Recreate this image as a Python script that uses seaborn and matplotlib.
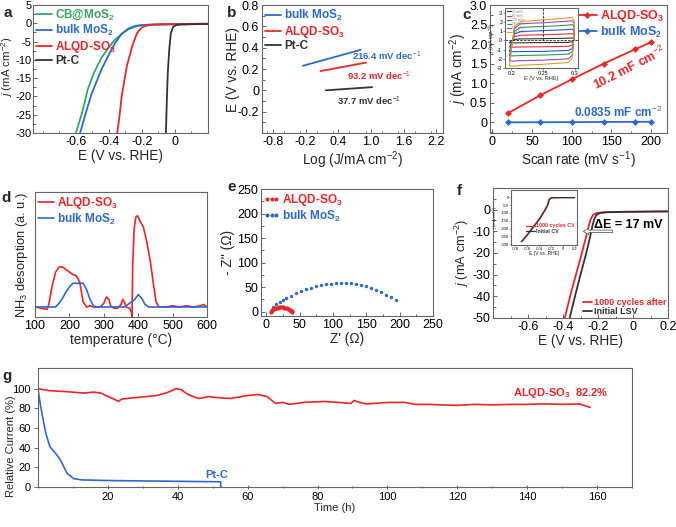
import numpy as np
import pandas as pd
import matplotlib
matplotlib.use('Agg')
import matplotlib.pyplot as plt
import matplotlib.ticker as mticker
from matplotlib.lines import Line2D
import seaborn as sns

# --- colours ---
RED = '#f02424'
BLUE = '#2b6ad6'
GREEN = '#35a860'
BLACK = '#333333'

# --- panel a: polarisation curves ---
a_E_cb = [-0.60, -0.56, -0.528, -0.49, -0.446, -0.40, -0.364, -0.32, -0.28, -0.24, -0.20, -0.12, 0.0, 0.2]
a_j_cb = [-30, -24, -18, -13.5, -9.5, -6.5, -4.5, -2.8, -1.6, -0.9, -0.5, -0.3, -0.2, -0.15]
a_E_bulk = [-0.575, -0.54, -0.507, -0.446, -0.40, -0.364, -0.323, -0.28, -0.24, -0.20, -0.16, 0.0, 0.2]
a_j_bulk = [-30, -24.5, -19.5, -12.7, -8.5, -5.5, -2.9, -1.4, -0.7, -0.5, -0.4, -0.3, -0.2]
a_E_alqd = [-0.35, -0.335, -0.323, -0.292, -0.26, -0.23, -0.20, -0.16, -0.10, 0.0, 0.2]
a_j_alqd = [-30, -25, -20, -11.8, -6.4, -2.7, -1.1, -0.45, -0.3, -0.2, -0.1]
a_E_ptc = [-0.055, -0.05, -0.044, -0.035, -0.025, -0.01, 0.01, 0.03, 0.1, 0.2]
a_j_ptc = [-30, -22, -14, -7.3, -2.7, -0.9, -0.5, -0.35, -0.25, -0.2]

# --- panel b: Tafel lines ---
b_x_bulk = [-0.25, 0.81]
b_y_bulk = [0.23, 0.38]
b_x_alqd = [0.07, 0.91]
b_y_alqd = [0.18, 0.26]
b_x_ptc = [0.17, 1.02]
b_y_ptc = [0.0, 0.03]
b_slopes = ['216.4', '93.2', '37.7']

# --- panel c: double layer capacitance ---
c_rate = [20, 60, 100, 140, 180, 200]
c_j_alqd = [0.24, 0.69, 1.10, 1.50, 1.87, 2.05]
c_j_bulk = [0.002, 0.005, 0.008, 0.012, 0.015, 0.017]
cv_E = [0.197, 0.2, 0.205, 0.215, 0.25, 0.285, 0.296, 0.299, 0.299, 0.296, 0.29, 0.25, 0.215, 0.205, 0.2, 0.197]
cv_j = {
    '20 mV/s': [-0.25, -0.1, 0.1, 0.15, 0.18, 0.22, 0.25, 0.2, 0.1, -0.15, -0.22, -0.25, -0.27, -0.28, -0.28, -0.25],
    '60 mV/s': [-0.7, -0.3, 0.4, 0.55, 0.6, 0.68, 0.72, 0.6, 0.3, -0.5, -0.65, -0.7, -0.72, -0.74, -0.74, -0.7],
    '100 mV/s': [-1.2, -0.5, 0.7, 0.95, 1.05, 1.15, 1.2, 1.0, 0.5, -0.9, -1.1, -1.2, -1.22, -1.24, -1.24, -1.2],
    '140 mV/s': [-1.6, -0.7, 1.0, 1.4, 1.5, 1.62, 1.7, 1.4, 0.7, -1.2, -1.5, -1.6, -1.65, -1.68, -1.68, -1.6],
    '180 mV/s': [-2.2, -0.9, 1.3, 1.8, 1.9, 2.05, 2.12, 1.8, 0.9, -1.6, -2.0, -2.15, -2.2, -2.25, -2.25, -2.2],
    '200 mV/s': [-2.75, -1.1, 1.5, 2.05, 2.2, 2.4, 2.5, 2.1, 1.0, -1.9, -2.4, -2.6, -2.7, -2.8, -2.8, -2.75],
}
cv_colors = [BLACK, '#e83030', '#3050e0', '#20a050', '#b040d0', '#d8a020']

# --- panel d: NH3-TPD ---
d_T_alqd = [100, 120, 135, 140, 150, 160, 170, 180, 190, 200, 210, 220, 230, 235, 240, 250, 260, 270,
            280, 290, 300, 308, 315, 320, 330, 340, 350, 355, 360, 365, 375, 380, 382, 384, 388, 393,
            398, 405, 415, 425, 435, 445, 452, 460, 480, 500, 520, 540, 560, 580, 590, 600]
d_s_alqd = [0.08, 0.07, 0.06, 0.10, 0.25, 0.36, 0.40, 0.40, 0.38, 0.36, 0.34, 0.33, 0.28, 0.20, 0.12,
            0.08, 0.09, 0.08, 0.08, 0.08, 0.11, 0.16, 0.14, 0.09, 0.07, 0.07, 0.10, 0.14, 0.12, 0.08,
            0.07, 0.04, 0.0, 0.4, 0.7, 0.8, 0.81, 0.77, 0.72, 0.60, 0.45, 0.25, 0.12, 0.08, 0.08, 0.09,
            0.08, 0.09, 0.08, 0.09, 0.10, 0.08]
d_T_bulk = [100, 150, 160, 170, 180, 190, 200, 210, 220, 240, 250, 260, 270, 280, 300, 340, 360, 370,
            380, 390, 400, 410, 420, 430, 600]
d_s_bulk = [0.08, 0.08, 0.08, 0.11, 0.15, 0.20, 0.24, 0.27, 0.27, 0.27, 0.22, 0.14, 0.09, 0.08, 0.08,
            0.08, 0.08, 0.10, 0.12, 0.14, 0.18, 0.15, 0.10, 0.08, 0.08]

# --- panel e: Nyquist ---
e_re_alqd = [7, 9, 11, 13, 15, 17, 19, 21, 23, 25, 27, 29, 31, 33, 35, 36, 37, 38, 38.5]
e_im_alqd = [0, 3, 5, 6.5, 7.5, 8.3, 8.8, 9.0, 9.0, 8.8, 8.3, 7.6, 6.6, 5.4, 4, 3, 2, 1, 0]
e_re_bulk = [6.5, 10, 15, 20, 25, 30, 37.5, 45, 52.5, 60, 67.5, 75, 82.5, 90, 97.5, 105, 112.5, 120,
             127.5, 135, 142.5, 150, 157.5, 165, 172.5, 180, 187.5, 195]
e_im_bulk = [2, 9, 15, 20, 24.5, 28.6, 32.7, 37.5, 41.5, 45.6, 49, 51.8, 53.8, 55.9, 57.2, 57.9, 58.6,
             58.6, 57.9, 56.5, 54.5, 51.8, 48.4, 44.3, 39.5, 34, 29.3, 24]

# --- panel f: stability LSV ---
f_E_after = [-0.39, -0.358, -0.326, -0.292, -0.268, -0.253, -0.242, -0.229, -0.21, -0.17, -0.06, 0.2]
f_j_after = [-50, -39.5, -30, -20, -12.5, -7.5, -4.5, -2.5, -1.6, -1.2, -1.0, -0.8]
f_E_init = [-0.362, -0.33, -0.30, -0.267, -0.245, -0.232, -0.222, -0.21, -0.19, -0.15, -0.05, 0.2]
f_j_init = [-50, -39.5, -30, -20, -12.5, -7.5, -4.5, -2.5, -1.6, -1.2, -1.0, -0.8]
fi_E_after = [-0.70, -0.6, -0.5, -0.4, -0.31, -0.26, -0.235, -0.2, 0.0, 0.2]
fi_E_init = [-0.69, -0.59, -0.49, -0.39, -0.30, -0.25, -0.225, -0.19, 0.0, 0.2]
fi_j = [-285, -240, -190, -140, -85, -50, -15, -2, -1, -1]

# --- panel g: chronoamperometry ---
g_t_alqd = [0, 3, 8, 13, 16, 18, 20, 22, 23, 24, 27, 31, 34, 37, 39.5, 41, 42.5, 44, 46, 49, 51, 55,
            60, 63, 65.5, 68, 70, 72, 76, 82, 86, 89.5, 90.5, 92, 94, 100, 105, 108, 112, 115, 120,
            125, 130, 135, 140, 145, 150, 155, 158]
g_v_alqd = [100, 98, 97, 95.5, 96.5, 95.5, 92, 89, 87, 89.5, 90.5, 92, 93, 96, 100, 99, 95, 92.5, 90,
            92, 91, 90, 93, 94, 92, 85, 86, 84, 86, 87, 86, 85, 88, 86, 84.5, 86, 86, 84, 84, 83.5,
            83, 84, 83.5, 84, 84, 84.5, 84, 84.5, 81]
g_t_ptc = [0, 0.7, 1.5, 2.2, 3.4, 5.3, 6.5, 8.3, 10.2, 12.6, 20, 26.7, 40, 52.3, 52.3]
g_v_ptc = [100, 83, 68, 55, 41, 33, 27, 14, 8.5, 7.2, 6.6, 6.3, 5.8, 5.3, 0]

# --- style ---
sns.set_style('ticks')
plt.rcParams['font.family'] = ['Liberation Sans', 'DejaVu Sans']
plt.rcParams['mathtext.fontset'] = 'custom'
plt.rcParams['mathtext.rm'] = 'Liberation Sans'
plt.rcParams['mathtext.it'] = 'Liberation Sans:italic'
plt.rcParams['mathtext.bf'] = 'Liberation Sans:bold'
plt.rcParams['axes.unicode_minus'] = False
plt.rcParams['axes.edgecolor'] = '#666666'
plt.rcParams['axes.linewidth'] = 0.8

W, H = 676, 527
TICK_FS = 9
LABEL_FS = 9.8
fig = plt.figure(figsize=(W / 100, H / 100), dpi=100)


def add_box(left, top, right, bottom):
    return fig.add_axes([left / W, 1 - bottom / H, (right - left) / W, (bottom - top) / H])


def style(ax, fs=TICK_FS, direction='in'):
    ax.tick_params(which='both', direction=direction, colors='#666666', labelcolor='black',
                   labelsize=fs, width=0.7, pad=2)
    ax.tick_params(which='major', length=3)
    ax.tick_params(which='minor', length=1.8)


def ylabel_at(ax, text, px_right, fs=LABEL_FS, yfrac=0.5):
    # y label with its right edge at a given pixel column
    ax.set_ylabel(text, fontsize=fs)
    pos = ax.get_position()
    ax.yaxis.set_label_coords((px_right - pos.x0 * W) / (pos.width * W), yfrac)


def zero_fmt(digits):
    def f(v, pos):
        if abs(v) < 1e-9:
            return '0'
        return f'{v:.{digits}f}'
    return mticker.FuncFormatter(f)


def color_legend(leg):
    for txt, h in zip(leg.get_texts(), leg.legend_handles):
        txt.set_color(h.get_color())


def bold_legend(ax, fs=8.5, handles=None, **kw):
    opts = dict(loc='upper left', frameon=False, prop={'weight': 'bold', 'size': fs},
                labelspacing=0.05, handlelength=1.4, handletextpad=0.2,
                borderaxespad=0.15, borderpad=0.1)
    opts.update(kw)
    if handles is not None:
        leg = ax.legend(handles=handles, **opts)
    else:
        leg = ax.legend(**opts)
    color_legend(leg)
    return leg


def line(ax, x, y, color, label=None, lw=1.3, **kw):
    sns.lineplot(x=x, y=y, ax=ax, color=color, lw=lw, label=label, sort=False, estimator=None, **kw)


# ================= a =================
ax = add_box(33, 5, 208, 133)
line(ax, a_E_cb, a_j_cb, GREEN, 'CB@MoS$_\\mathbf{2}$')
line(ax, a_E_bulk, a_j_bulk, BLUE, 'bulk MoS$_\\mathbf{2}$')
line(ax, a_E_alqd, a_j_alqd, RED, 'ALQD-SO$_\\mathbf{3}$')
line(ax, a_E_ptc, a_j_ptc, BLACK, 'Pt-C')
ax.set_xlim(-0.86, 0.2)
ax.set_ylim(-30, 5)
ax.xaxis.set_major_locator(mticker.FixedLocator([-0.6, -0.4, -0.2, 0]))
ax.xaxis.set_minor_locator(mticker.MultipleLocator(0.1))
ax.yaxis.set_major_locator(mticker.MultipleLocator(5))
ax.yaxis.set_minor_locator(mticker.MultipleLocator(2.5))
ax.xaxis.set_major_formatter(zero_fmt(1))
ax.set_xlabel('E (V vs. RHE)', fontsize=LABEL_FS, labelpad=1)
ylabel_at(ax, '$j$ (mA cm$^{-2}$)', 15, fs=8.2, yfrac=0.52)
style(ax)
ax.tick_params(axis='y', labelsize=8, pad=1.2)
bold_legend(ax)

# ================= b =================
ax = add_box(262, 5, 443, 133)
line(ax, b_x_bulk, b_y_bulk, BLUE, 'bulk MoS$_\\mathbf{2}$')
line(ax, b_x_alqd, b_y_alqd, RED, 'ALQD-SO$_\\mathbf{3}$')
line(ax, b_x_ptc, b_y_ptc, BLACK, 'Pt-C')
ax.text(1.28, 0.32, b_slopes[0] + ' mV dec$^{-1}$', color=BLUE, fontsize=6.8, weight='bold', ha='center', va='center')
ax.text(1.14, 0.13, b_slopes[1] + ' mV dec$^{-1}$', color=RED, fontsize=6.8, weight='bold', ha='center', va='center')
ax.text(0.96, -0.10, b_slopes[2] + ' mV dec$^{-1}$', color=BLACK, fontsize=6.8, weight='bold', ha='center', va='center')
ax.set_xlim(-1.0, 2.32)
ax.set_ylim(-0.4, 0.8)
ax.xaxis.set_major_locator(mticker.FixedLocator([-0.8, -0.2, 0.4, 1.0, 1.6, 2.2]))
ax.xaxis.set_minor_locator(mticker.MultipleLocator(0.3))
ax.yaxis.set_major_locator(mticker.FixedLocator([-0.2, 0, 0.2, 0.4, 0.6, 0.8]))
ax.yaxis.set_minor_locator(mticker.MultipleLocator(0.1))
ax.xaxis.set_major_formatter(zero_fmt(1))
ax.yaxis.set_major_formatter(zero_fmt(1))
ax.set_xlabel('Log (J/mA cm$^{-2}$)', fontsize=LABEL_FS, labelpad=1)
ylabel_at(ax, 'E (V vs. RHE)', 240)
style(ax)
bold_legend(ax)

# ================= c =================
ax = add_box(490, 5, 667, 133)
line(ax, c_rate, c_j_alqd, RED, 'ALQD-SO$_\\mathbf{3}$', marker='D', markersize=3.5, markeredgewidth=0)
line(ax, c_rate, c_j_bulk, BLUE, 'bulk MoS$_\\mathbf{2}$', marker='D', markersize=3.5, markeredgewidth=0)
ax.text(173, 1.40, '10.2 mF cm$^{-2}$', color=RED, fontsize=9, weight='bold', rotation=27,
        ha='center', va='center')
ax.text(158, 0.25, '0.0835 mF cm$^{-2}$', color=BLUE, fontsize=8.5, weight='bold', ha='center', va='center')
ax.set_xlim(-3, 220)
ax.set_ylim(-0.27, 3.0)
ax.xaxis.set_major_locator(mticker.MultipleLocator(50))
ax.xaxis.set_minor_locator(mticker.MultipleLocator(25))
ax.yaxis.set_major_locator(mticker.MultipleLocator(0.5))
ax.yaxis.set_minor_locator(mticker.MultipleLocator(0.25))
ax.yaxis.set_major_formatter(zero_fmt(1))
ax.set_xlabel('Scan rate (mV s$^{-1}$)', fontsize=LABEL_FS, labelpad=1)
ylabel_at(ax, '$j$ (mA cm$^{-2}$)', 469)
style(ax)
bold_legend(ax, fs=9, loc='upper right', handlelength=1.6)

ins = add_box(505, 8, 578, 68)
for (name, vals), col in zip(cv_j.items(), cv_colors):
    line(ins, cv_E, vals, col, name, lw=0.8)
ins.axhline(0, color='black', lw=0.5, ls='--')
ins.plot([0.25, 0.25], [0, 3.5], color='black', lw=0.5, ls='--')
ins.set_xlim(0.19, 0.305)
ins.set_ylim(-3, 3.5)
ins.xaxis.set_major_locator(mticker.FixedLocator([0.2, 0.25, 0.3]))
ins.yaxis.set_major_locator(mticker.MultipleLocator(1))
ins.xaxis.set_major_formatter(mticker.FuncFormatter(lambda v, p: f'{v:g}'))
ins.set_xlabel('E (V vs. RHE)', fontsize=4, labelpad=0)
ins.set_ylabel('$j$ (mA cm$^{-2}$)', fontsize=4, labelpad=0)
ins.tick_params(labelsize=4, length=1.5, width=0.5, pad=0.5, colors='#666666', labelcolor='black')
leg = ins.legend(loc='upper left', frameon=False, fontsize=2.2, labelspacing=0.05, handlelength=1.5,
                 handletextpad=0.3, borderaxespad=0.1)
for t in leg.get_texts():
    t.set_color('#777777')

# ================= d =================
ax = add_box(35, 192, 207, 317)
line(ax, d_T_alqd, d_s_alqd, RED, 'ALQD-SO$_\\mathbf{3}$', lw=1.2)
line(ax, d_T_bulk, d_s_bulk, BLUE, 'bulk MoS$_\\mathbf{2}$', lw=1.2)
ax.set_xlim(100, 600)
ax.set_ylim(0, 1.0)
ax.xaxis.set_major_locator(mticker.MultipleLocator(100))
ax.set_yticks([])
ax.set_xlabel('temperature (°C)', fontsize=LABEL_FS, labelpad=1)
ylabel_at(ax, 'NH$_3$ desorption (a. u.)', 30, fs=9.3, yfrac=0.5)
style(ax)
bold_legend(ax)

# ================= e =================
ax = add_box(261, 189, 433, 316)
sns.scatterplot(x=e_re_bulk, y=e_im_bulk, ax=ax, color=BLUE, s=6, linewidth=0)
sns.scatterplot(x=e_re_alqd, y=e_im_alqd, ax=ax, color=RED, s=9, linewidth=0)
ax.set_xlim(-8, 250)
ax.set_ylim(-9, 250)
ax.xaxis.set_major_locator(mticker.MultipleLocator(50))
ax.yaxis.set_major_locator(mticker.MultipleLocator(50))
ax.xaxis.set_minor_locator(mticker.MultipleLocator(25))
ax.yaxis.set_minor_locator(mticker.MultipleLocator(25))
ax.set_xlabel("Z' (Ω)", fontsize=LABEL_FS, labelpad=1)
ylabel_at(ax, "- Z'' (Ω)", 235)
style(ax)
e_handles = [Line2D([], [], ls='', marker='o', ms=1.9, color=RED, label='ALQD-SO$_\\mathbf{3}$'),
             Line2D([], [], ls='', marker='o', ms=1.9, color=BLUE, label='bulk MoS$_\\mathbf{2}$')]
bold_legend(ax, handles=e_handles, numpoints=3, handlelength=1.3)

# ================= f =================
ax = add_box(493, 188, 668, 318)
line(ax, f_E_after, f_j_after, RED, '1000 cycles after', lw=1.3)
line(ax, f_E_init, f_j_init, BLACK, 'Initial LSV', lw=1.3)
ax.text(-0.225, -7, 'ΔE = 17 mV', fontsize=9, weight='bold', ha='left', va='center', color='black')
ax.annotate('', xy=(-0.30, -10), xytext=(-0.1, -10),
            arrowprops=dict(arrowstyle='simple,head_width=0.45,head_length=0.4,tail_width=0.18',
                            fc='white', ec='#444444', lw=0.5))
ax.set_xlim(-0.8, 0.2)
ax.set_ylim(-50, 10)
ax.xaxis.set_major_locator(mticker.FixedLocator([-0.6, -0.4, -0.2, 0, 0.2]))
ax.xaxis.set_minor_locator(mticker.MultipleLocator(0.1))
ax.yaxis.set_major_locator(mticker.FixedLocator([-50, -40, -30, -20, -10, 0]))
ax.yaxis.set_minor_locator(mticker.MultipleLocator(5))
ax.xaxis.set_major_formatter(zero_fmt(1))
ax.set_xlabel('E (V vs. RHE)', fontsize=LABEL_FS, labelpad=1)
ylabel_at(ax, '$j$ (mA cm$^{-2}$)', 471, fs=9.3)
style(ax)
bold_legend(ax, fs=6.5, loc='lower right', handlelength=1.0, borderaxespad=0.1)

ins = add_box(511, 190, 577, 245)
line(ins, fi_E_after, fi_j, RED, '1000 cycles CV', lw=0.9)
line(ins, fi_E_init, fi_j, BLACK, 'Initial CV', lw=0.9)
ins.set_xlim(-0.87, 0.24)
ins.set_ylim(-306, 48)
ins.xaxis.set_major_locator(mticker.FixedLocator([-0.8, -0.6, -0.4, -0.2, 0, 0.2]))
ins.yaxis.set_major_locator(mticker.MultipleLocator(50))
ins.xaxis.set_major_formatter(zero_fmt(1))
ins.set_xlabel('E (V vs. RHE)', fontsize=3.5, labelpad=0)
ins.set_ylabel('$j$ (mA cm$^{-2}$)', fontsize=3, labelpad=0)
ins.tick_params(labelsize=3, length=1.2, width=0.4, pad=0.5, colors='#666666', labelcolor='black')
bold_legend(ins, fs=3.8, loc='center right', bbox_to_anchor=(0.98, 0.3), handlelength=1.6)

# ================= g =================
ax = add_box(38, 368, 632, 487)
line(ax, g_t_alqd, g_v_alqd, RED, None, lw=1.2)
line(ax, g_t_ptc, g_v_ptc, BLUE, None, lw=1.2)
ax.text(149.5, 96, 'ALQD-SO$_\\mathbf{3}$  82.2%', color=RED, fontsize=8, weight='bold', ha='center', va='center')
ax.text(51, 12, 'Pt-C', color=BLUE, fontsize=8, weight='bold', ha='center', va='center')
ax.set_xlim(0, 170)
ax.set_ylim(0, 121)
ax.xaxis.set_major_locator(mticker.FixedLocator([20, 40, 60, 80, 100, 120, 140, 160]))
ax.xaxis.set_minor_locator(mticker.MultipleLocator(10))
ax.yaxis.set_major_locator(mticker.FixedLocator([0, 20, 40, 60, 80, 100]))
ax.set_xlabel('Time (h)', fontsize=8, labelpad=1)
ylabel_at(ax, 'Relative Current (%)', 16, fs=8, yfrac=0.34)
style(ax, fs=8, direction='out')
ax.tick_params(axis='x', which='both', direction='inout')

# --- panel letters ---
letters = 'abcdefg'
letter_px = [(3, 13), (227, 13), (462, 15), (1, 198), (227, 187), (457, 191), (2, 376)]
for letter, (px, py) in zip(letters, letter_px):
    fig.text(px / W, 1 - py / H, letter, fontsize=11, weight='bold', ha='left', va='center')

fig.savefig('out.png', dpi=100)
